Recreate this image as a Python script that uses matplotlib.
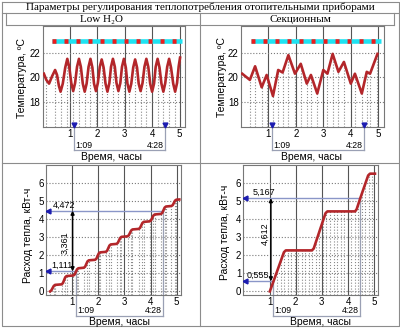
import numpy as np
import matplotlib
matplotlib.use('Agg')
import matplotlib.pyplot as plt

plt.rcParams['font.family'] = ['Liberation Sans', 'DejaVu Sans']
SERIF = ['Liberation Serif', 'DejaVu Serif']

# --- data ---
title = 'Параметры регулирования теплопотребления отопительными приборами'
col_titles = ['Low H\u2082O', 'Секционным']

# temperature, Low H2O
t_low = [0.05, 0.14, 0.24, 0.35, 0.46, 0.53, 0.60, 0.66, 0.74, 0.83, 0.905,
         0.975, 1.05, 1.12, 1.19, 1.26, 1.33,
         1.40, 1.47, 1.54, 1.61, 1.68, 1.75,
         1.82, 1.88, 1.95, 2.02, 2.09, 2.16,
         2.23, 2.30, 2.37, 2.44, 2.50, 2.57,
         2.64, 2.70, 2.77, 2.84, 2.90, 2.97,
         3.04, 3.10, 3.17, 3.24, 3.31, 3.38,
         3.45, 3.51, 3.58, 3.65, 3.72, 3.79,
         3.86, 3.93, 4.00, 4.07, 4.13, 4.20,
         4.27, 4.34, 4.41, 4.48, 4.55, 4.62,
         4.69, 4.77, 4.84, 4.91, 4.97, 5.02]
temp_low = [20.3, 19.8, 19.5, 20.1, 20.6, 20.2, 19.3, 18.85, 19.5, 20.8, 21.5,
            20.85, 19.55, 18.9, 19.55, 20.85, 21.5,
            20.85, 19.5, 18.85, 19.5, 20.85, 21.5,
            20.8, 19.5, 18.9, 19.55, 20.85, 21.45,
            20.8, 19.5, 18.85, 19.55, 20.85, 21.5,
            20.85, 19.55, 18.9, 19.55, 20.85, 21.5,
            20.8, 19.5, 18.85, 19.5, 20.8, 21.45,
            20.8, 19.5, 18.9, 19.55, 20.85, 21.5,
            20.85, 19.5, 18.85, 19.5, 20.85, 21.5,
            20.8, 19.5, 18.85, 19.55, 20.85, 21.5,
            20.8, 19.5, 18.85, 19.55, 20.9, 21.6]

# temperature, sectional
t_sec = [0.05, 0.33, 0.52, 0.76, 0.94, 1.17, 1.36, 1.52, 1.73, 1.97, 2.18, 2.40,
         2.55, 2.78, 3.00, 3.15, 3.34, 3.55, 3.75, 4.00, 4.15, 4.40, 4.58, 4.70, 4.97]
temp_sec = [20.3, 19.8, 20.9, 19.2, 20.2, 18.5, 20.6, 20.4, 21.8, 20.3, 21.1, 19.5,
            20.2, 18.7, 20.6, 20.3, 21.9, 20.45, 21.25, 19.5, 20.3, 18.7, 20.45, 20.3, 21.9]
setpoint = 22.9

# heat consumption, Low H2O
t_qlow = [0.16, 0.21, 0.30, 0.35, 0.60, 0.65, 0.74, 0.79, 1.05, 1.10, 1.19, 1.24,
          1.45, 1.50, 1.59, 1.64, 1.88, 1.93, 2.02, 2.07, 2.29, 2.34, 2.43, 2.48,
          2.70, 2.75, 2.84, 2.89, 3.12, 3.17, 3.26, 3.31, 3.55, 3.60, 3.69, 3.74,
          3.97, 4.02, 4.11, 4.16, 4.40, 4.45, 4.54, 4.59, 4.80, 4.85, 4.94, 4.99, 5.10]
q_low = [0.0, 0.06, 0.30, 0.36, 0.39, 0.46, 0.78, 0.85, 0.88, 0.94, 1.22, 1.28,
         1.31, 1.37, 1.66, 1.72, 1.75, 1.81, 2.10, 2.16, 2.19, 2.25, 2.54, 2.60,
         2.63, 2.69, 2.96, 3.02, 3.05, 3.11, 3.37, 3.43, 3.46, 3.52, 3.79, 3.85,
         3.88, 3.94, 4.20, 4.26, 4.29, 4.35, 4.64, 4.70, 4.73, 4.78, 5.03, 5.08, 5.09]

# heat consumption, sectional
t_qsec = [1.01, 1.15, 1.55, 1.62, 2.62, 2.69, 3.14, 3.21, 4.27, 4.33, 4.47, 4.77, 4.84, 5.03]
q_sec = [0.0, 0.555, 2.17, 2.27, 2.27, 2.38, 4.33, 4.43, 4.43, 4.55, 5.167, 6.42, 6.52, 6.52]

t_marks = [1.15, 4.47]
mark_labels = ['1:09', '4:28']
q_low_marks = [1.111, 4.472]
q_sec_marks = [0.555, 5.167]

# --- layout helpers (pixels of a 400x328 picture) ---
W, H = 400, 328
RED = '#b3262a'
BLUE = '#1c1cb0'
GRID = '#7a7a7a'


def px_rect(l, t, r, b):
    return [l / W, 1 - b / H, (r - l) / W, (b - t) / H]


def fmt(v):
    return ('%.3f' % v).replace('.', ',')


def style(ax, yticks):
    ax.set_xticks([1, 2, 3, 4, 5])
    ax.set_yticks(yticks)
    ax.grid(axis='x', ls='-', color='#555555', lw=0.8)
    ax.grid(axis='y', ls=':', color=GRID, lw=0.8)
    ax.tick_params(length=0, labelsize=7, pad=1.5)
    for s in ax.spines.values():
        s.set_color('#777777')
        s.set_linewidth(0.8)


def bracket(ax, ylev, ytxt, xlab_x, ylab):
    tr = ax.get_xaxis_transform()
    for tm in t_marks:
        ax.plot([tm, tm], [0, ylev], color='#9aa0b4', lw=0.9, transform=tr, clip_on=False)
    ax.plot(t_marks, [ylev, ylev], color='#9aa0b4', lw=0.9, transform=tr, clip_on=False)
    ax.text(t_marks[0] + 0.04, ytxt, mark_labels[0], transform=tr, ha='left', va='center', fontsize=6.3)
    ax.text(t_marks[1] - 0.04, ytxt, mark_labels[1], transform=tr, ha='right', va='center', fontsize=6.3)
    ax.text(xlab_x, ylab, 'Время, часы', transform=tr, ha='center', va='center', fontsize=7.5)


def temp_panel(rect, t, temp, drops, xlab_x, ylab_px):
    ax = fig.add_axes(px_rect(*rect))
    ax.set_xlim(0, 5.2)
    ax.set_ylim(16, 24.15)
    style(ax, [18, 20, 22])
    ax.vlines([t[i] for i in drops], 16, [temp[i] for i in drops],
              colors='#8a8a8a', linestyles=':', lw=0.8, zorder=1)
    ax.plot(t, temp, color=RED, lw=1.9, solid_joinstyle='round', zorder=3)
    ax.plot([0.36, 5.08], [setpoint, setpoint], color='#1ee3f2', lw=3.3,
            solid_capstyle='butt', zorder=4)
    ax.plot([0.36, 5.08], [setpoint, setpoint], color='#ee1c1c', lw=3.3,
            dashes=(0.87, 1.75), dash_capstyle='butt', zorder=5)
    ax.plot(t_marks, [16.2, 16.2], 'v', color=BLUE, ms=3.5, clip_on=False, zorder=6)
    bracket(ax, -0.228, -0.183, xlab_x, -0.297)
    fig.text(ylab_px[0] / W, 1 - ylab_px[1] / H, 'Температура, ºC', rotation=90,
             ha='center', va='center', fontsize=7.5)
    return ax


def heat_panel(rect, t, q, drops, marks, arrow_x, num_x, diff_xy, xlab_x, ylab_px):
    ax = fig.add_axes(px_rect(*rect))
    ax.set_xlim(0, 5.15)
    ax.set_ylim(-0.2, 7.0)
    style(ax, [0, 1, 2, 3, 4, 5, 6])
    ax.vlines(drops, -0.2, np.interp(drops, t, q),
              colors='#8a8a8a', linestyles=':', lw=0.8, zorder=1)
    ax.plot(t, q, color=RED, lw=1.9, solid_joinstyle='round', zorder=3)
    for tm, m, nx in zip(t_marks, marks, num_x):
        ax.plot([0, tm], [m, m], color='#8a96c8', lw=1.0, zorder=2)
        ax.plot([tm, tm], [-0.2, m], color='#9aa0b4', lw=0.9, zorder=2)
        ax.plot([0.08], [m], '<', color=BLUE, ms=3.5, zorder=4)
        ax.text(nx, m + 0.32, fmt(m), ha='left', va='center', fontsize=6.5)
    ax.annotate('', xy=(arrow_x, marks[1]), xytext=(arrow_x, marks[0]),
                arrowprops=dict(arrowstyle='<|-|>', color='black', lw=1.1,
                                mutation_scale=5, shrinkA=0, shrinkB=0))
    ax.text(diff_xy[0], diff_xy[1], fmt(marks[1] - marks[0]), rotation=90,
            ha='center', va='center', fontsize=6.5)
    bracket(ax, -0.162, -0.123, xlab_x, -0.21)
    fig.text(ylab_px[0] / W, 1 - ylab_px[1] / H, 'Расход тепла, кВт-ч', rotation=90,
             ha='center', va='center', fontsize=7.5)
    return ax


fig = plt.figure(figsize=(4, 3.28), dpi=100)

# table frame and headers
frame = fig.add_axes([0, 0, 1, 1])
frame.set_xlim(0, W)
frame.set_ylim(H, 0)
frame.axis('off')
for xs, ys in [([1.5, 398.5, 398.5, 1.5, 1.5], [1.5, 1.5, 326, 326, 1.5]),
               ([1.5, 398.5], [13, 13]), ([6, 394], [25, 25]),
               ([6, 6], [13, 25]), ([394, 394], [13, 25]),
               ([199.5, 199.5], [13, 326]), ([1.5, 398.5], [163, 163])]:
    frame.plot(xs, ys, color='#8c8c8c', lw=0.8)
frame.text(200, 7.3, title, ha='center', va='center', fontsize=8, family=SERIF)
frame.text(101, 19.3, col_titles[0], ha='center', va='center', fontsize=8, family=SERIF)
frame.text(300, 19.3, col_titles[1], ha='center', va='center', fontsize=8, family=SERIF)

temp_panel((42.5, 26, 185, 127), t_low, temp_low, range(1, len(t_low), 3), 2.5, (22.5, 78))
temp_panel((240.8, 26, 383.8, 127), t_sec, temp_sec, range(1, len(t_sec)), 2.58, (221.7, 77))

drops_low = [t_qlow[i] for i in range(len(t_qlow) - 1) if i % 4 != 1]
drops_sec = np.arange(1.15, 4.95, 0.135)
heat_panel((45.9, 165, 180.6, 295), t_qlow, q_low, drops_low, q_low_marks,
           1.02, [0.19, 0.27], (0.73, 2.7), 2.83, (28.3, 235))
heat_panel((243.4, 165, 378.1, 295), t_qsec, q_sec, drops_sec, q_sec_marks,
           1.05, [0.12, 0.37], (0.83, 3.2), 2.93, (225, 232))

fig.savefig('out.png', dpi=100)
